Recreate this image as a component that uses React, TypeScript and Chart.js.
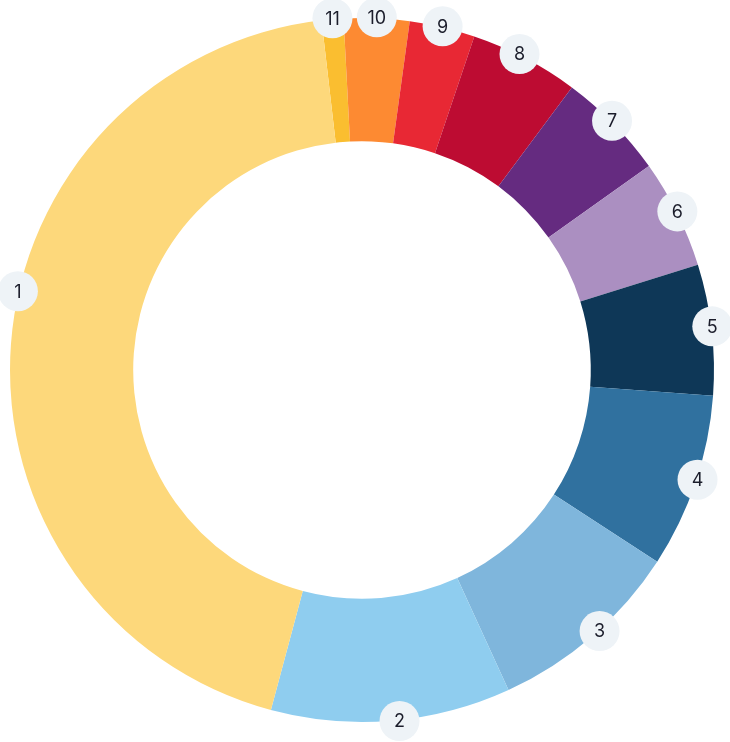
import React, { useEffect, useRef } from "react";
import { Chart, registerables } from "chart.js";

Chart.register(...registerables);

const categories = ["1", "2", "3", "4", "5", "6", "7", "8", "9", "10", "11"];
const values = [44, 11, 9, 8, 6, 5, 5, 5, 3, 3, 1];
const colors = [
  "#FDD87B",
  "#8FCDEF",
  "#7FB6DC",
  "#30719F",
  "#0E3757",
  "#AB8FC1",
  "#652B80",
  "#BD0C32",
  "#E82834",
  "#FD8A32",
  "#FABE30",
];
// small angular nudges (degrees) for label bubbles, by category
const labelNudge = [8.7, -1.3, -1.5, -0.5, -0.5, -0.3, -0.5, -1.1, 0, 0, 0];

const bubblePlugin = {
  id: "bubbleLabels",
  afterDatasetsDraw(chart: any) {
    const ctx = chart.ctx;
    const meta = chart.getDatasetMeta(0);
    const labels = chart.data.labels as string[];
    ctx.save();
    meta.data.forEach((arc: any, i: number) => {
      const label = labels[i];
      const catIdx = categories.indexOf(label);
      const nudge = ((labelNudge[catIdx] || 0) * Math.PI) / 180;
      const mid = (arc.startAngle + arc.endAngle) / 2 + nudge;
      const r = arc.outerRadius + 1;
      const x = arc.x + Math.cos(mid) * r;
      const y = arc.y + Math.sin(mid) * r;
      ctx.beginPath();
      ctx.arc(x, y, 20, 0, Math.PI * 2);
      ctx.fillStyle = "#EEF3F7";
      ctx.fill();
      ctx.fillStyle = "#1B1D2B";
      ctx.font = "400 18px Inter, 'Open Sans', sans-serif";
      ctx.textAlign = "center";
      ctx.textBaseline = "middle";
      ctx.fillText(label, x, y + 1);
    });
    ctx.restore();
  },
};

export default function App() {
  const ref = useRef<HTMLCanvasElement | null>(null);
  useEffect(() => {
    document.body.style.margin = "0";
    if (!ref.current) return;
    const order = categories.map((_, i) => i).reverse();
    const chart = new Chart(ref.current, {
      type: "doughnut",
      data: {
        labels: order.map((i) => categories[i]),
        datasets: [
          {
            data: order.map((i) => values[i]),
            backgroundColor: order.map((i) => colors[i]),
            borderWidth: 0,
          },
        ],
      },
      options: {
        animation: false,
        responsive: false,
        maintainAspectRatio: false,
        cutout: "65%",
        rotation: -6.6,
        layout: { padding: { left: 10, right: 16, top: 18, bottom: 20 } },
        plugins: {
          legend: { display: false },
          tooltip: { enabled: false },
        },
      },
      plugins: [bubblePlugin],
    });
    return () => chart.destroy();
  }, []);
  return (
    <div style={{ width: 730, height: 742, position: "relative" }}>
      <canvas ref={ref} width={730} height={742} style={{ display: "block" }} />
    </div>
  );
}
